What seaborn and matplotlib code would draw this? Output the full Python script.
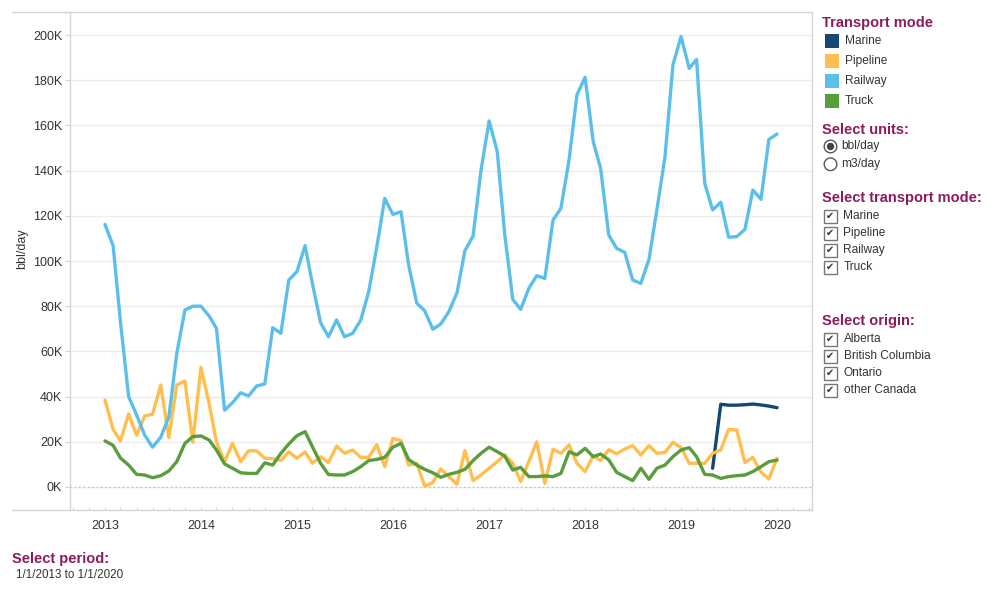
import numpy as np
import pandas as pd
import matplotlib
matplotlib.use("Agg")
import matplotlib.pyplot as plt
import matplotlib.dates as mdates
from matplotlib.ticker import FuncFormatter, MultipleLocator
from matplotlib.patches import Rectangle, Circle
from matplotlib.lines import Line2D
import seaborn as sns

# ---- data (thousand bbl/day, monthly Jan 2013 .. Jan 2020) ----
months = pd.date_range("2013-01-01", "2020-01-01", freq="MS")

railway = [116.2, 106.8, 73.0, 40.0, 32.0, 23.0, 17.6, 22.0, 31.0, 59.0, 78.3, 80.0,
           80.0, 75.7, 70.2, 34.0, 37.3, 41.7, 40.3, 44.7, 45.6, 70.5, 68.0, 91.6,
           95.3, 106.8, 90.0, 72.7, 66.5, 73.9, 66.5, 68.0, 73.9, 86.4, 106.3, 127.7,
           120.6, 121.8, 98.2, 81.3, 78.0, 69.8, 72.1, 77.6, 86.0, 104.6, 111.0, 140.0,
           162.0, 148.4, 112.2, 83.0, 78.6, 87.9, 93.5, 92.3, 118.1, 123.3, 144.7, 173.5,
           181.3, 152.8, 141.0, 111.5, 105.6, 103.8, 91.6, 90.1, 100.7, 122.6, 146.2, 186.7,
           199.3, 185.2, 189.2, 134.4, 122.6, 126.0, 110.5, 110.8, 114.0, 131.4, 127.3, 153.8,
           156.2]

pipeline = [38.5, 25.5, 20.4, 32.3, 22.9, 31.4, 32.2, 45.1, 21.8, 45.1, 46.9, 19.8,
            53.0, 37.0, 20.0, 11.2, 19.3, 11.2, 16.0, 16.0, 12.7, 12.5, 11.7, 15.6,
            12.7, 15.5, 10.5, 13.4, 10.8, 18.1, 14.9, 16.4, 13.1, 13.1, 18.7, 9.0,
            21.5, 20.5, 9.7, 10.5, 0.4, 2.0, 8.0, 4.6, 1.2, 16.1, 2.8, 5.3,
            8.3, 11.2, 14.2, 10.5, 2.4, 11.2, 20.0, 1.6, 16.7, 14.9, 18.6, 10.5,
            6.8, 13.9, 11.7, 16.5, 14.7, 16.8, 18.3, 14.2, 18.3, 14.9, 15.3, 19.8,
            17.4, 10.5, 10.5, 10.5, 14.9, 16.4, 25.5, 25.2, 10.8, 13.1, 6.5, 3.5,
            12.7]

truck = [20.4, 18.4, 12.8, 9.7, 5.6, 5.3, 4.1, 5.0, 7.1, 11.2, 19.3, 22.3,
         22.6, 20.8, 16.4, 10.2, 8.3, 6.3, 6.0, 6.0, 10.7, 9.7, 14.9, 19.0,
         22.7, 24.5, 17.8, 10.5, 5.5, 5.3, 5.3, 6.8, 9.0, 11.7, 12.2, 13.1,
         17.6, 19.3, 12.2, 9.7, 7.8, 6.3, 4.3, 5.6, 6.5, 7.8, 11.7, 14.9,
         17.6, 15.6, 13.7, 7.5, 8.7, 4.6, 4.6, 4.9, 4.6, 6.0, 15.6, 14.2,
         17.1, 13.4, 14.6, 12.0, 6.5, 4.6, 2.8, 8.3, 3.4, 8.3, 9.7, 13.4,
         16.4, 17.4, 13.4, 5.6, 5.3, 3.8, 4.6, 5.0, 5.3, 6.8, 9.0, 11.2,
         11.9]

# marine only reported from May 2019
marine_months = pd.date_range("2019-05-01", "2020-01-01", freq="MS")
marine = [8.3, 36.6, 36.2, 36.2, 36.4, 36.7, 36.3, 35.8, 35.1]

modes = ["Marine", "Pipeline", "Railway", "Truck"]
colors = {"Marine": "#17466F", "Pipeline": "#FFBE4D", "Railway": "#5BBFE9", "Truck": "#599D3C"}

frames = [
    pd.DataFrame({"month": marine_months, "value": np.array(marine) * 1000, "mode": "Marine"}),
    pd.DataFrame({"month": months, "value": np.array(pipeline) * 1000, "mode": "Pipeline"}),
    pd.DataFrame({"month": months, "value": np.array(railway) * 1000, "mode": "Railway"}),
    pd.DataFrame({"month": months, "value": np.array(truck) * 1000, "mode": "Truck"}),
]
df = pd.concat(frames, ignore_index=True)

# ---- style ----
sns.set_theme(style="white")
plt.rcParams["font.family"] = ["Liberation Sans", "DejaVu Sans"]

TITLE_C = "#8C1D5A"
TEXT_C = "#333333"
LINE_C = "#d4d4d4"

W, H = 999, 599
fig = plt.figure(figsize=(W / 100, H / 100), dpi=100)
ax = fig.add_axes([70 / W, 1 - 510 / H, (812 - 70) / W, (510 - 12) / H])

sns.lineplot(data=df, x="month", y="value", hue="mode", hue_order=modes,
             palette=colors, linewidth=2.4, legend=False, ax=ax)

ax.set_xlim(pd.Timestamp("2012-08-21"), pd.Timestamp("2020-05-13"))
ax.set_ylim(-10180, 210180)

ax.yaxis.set_major_locator(MultipleLocator(20000))
ax.yaxis.set_major_formatter(FuncFormatter(lambda v, p: f"{v / 1000:.0f}K"))
ax.xaxis.set_major_locator(mdates.YearLocator())
ax.xaxis.set_major_formatter(mdates.DateFormatter("%Y"))
ax.xaxis.set_minor_locator(mdates.MonthLocator(bymonth=[1, 3, 5, 7, 9, 11]))

ax.grid(axis="y", color="#ececec", linewidth=1)
ax.axhline(0, color="#b8b8b8", linewidth=0.9, linestyle=(0, (1, 2.5)), zorder=1)
ax.set_axisbelow(True)

ax.tick_params(axis="y", which="major", left=True, length=3.6, width=0.8,
               color=LINE_C, labelsize=9, labelcolor=TEXT_C, pad=2)
ax.tick_params(axis="x", which="both", bottom=True, direction="in", length=2.5,
               width=0.8, color=LINE_C, labelsize=9, labelcolor=TEXT_C, pad=7)

for side in ["left", "right", "top", "bottom"]:
    ax.spines[side].set_color(LINE_C)
    ax.spines[side].set_linewidth(1)

ax.set_xlabel("")
ax.set_ylabel("bbl/day", fontsize=9, color=TEXT_C)
ax.yaxis.set_label_coords(-(70 - 28) / (812 - 70), 0.525)

# ---- overlay in pixel coordinates for the dashboard pieces ----
ov = fig.add_axes([0, 0, 1, 1], zorder=5)
ov.set_xlim(0, W)
ov.set_ylim(H, 0)
ov.axis("off")
ov.patch.set_alpha(0)

# frame lines reaching out over the y-label area
ov.add_line(Line2D([12, 70], [12, 12], color=LINE_C, linewidth=1))
ov.add_line(Line2D([12, 70], [510, 510], color=LINE_C, linewidth=1))

def title(x, y, s):
    ov.text(x, y, s, fontsize=10.5, fontweight="bold", color=TITLE_C, va="center", ha="left")

def label(x, y, s, size=8.6):
    ov.text(x, y, s, fontsize=size, color=TEXT_C, va="center", ha="left")

def checkbox(y, s):
    ov.add_patch(Rectangle((823.5, y - 6.5), 13, 13, facecolor="white", edgecolor="#777777", linewidth=1))
    ov.text(830, y, "\u2714", fontsize=7, family="DejaVu Sans", color="#333333", ha="center", va="center")
    label(843.5, y, s)

# transport mode legend
title(822, 23, "Transport mode")
for i, m in enumerate(modes):
    y = 41 + 20 * i
    ov.add_patch(Rectangle((825, y - 7), 14, 14, facecolor=colors[m], edgecolor="none"))
    label(845, y, m)

# units
title(822, 130, "Select units:")
ov.add_patch(Circle((830.5, 146.5), 6.3, facecolor="white", edgecolor="#555555", linewidth=1))
ov.add_patch(Circle((830.5, 146.5), 3.7, facecolor="#444444", edgecolor="none"))
label(841, 146.5, "bbl/day")
ov.add_patch(Circle((830.5, 164.3), 6.3, facecolor="white", edgecolor="#555555", linewidth=1))
label(841, 164.3, "m3/day")

# transport mode selection
title(822, 198, "Select transport mode:")
for i, m in enumerate(modes):
    checkbox(216 + 17 * i, m)

# origin selection
origins = ["Alberta", "British Columbia", "Ontario", "other Canada"]
title(822, 321, "Select origin:")
for i, o in enumerate(origins):
    checkbox(339 + 17 * i, o)

# period
title(12, 559, "Select period:")
label(16, 575, "1/1/2013 to 1/1/2020", size=8.4)

fig.savefig("out.png", dpi=100)
